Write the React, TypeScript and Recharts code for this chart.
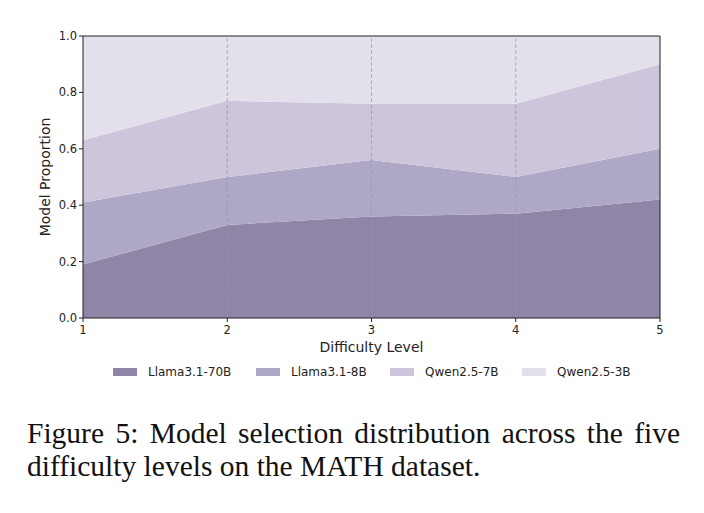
import { AreaChart, Area, XAxis, YAxis, ReferenceLine, Label } from 'recharts'

// x categories and per-model shares
const levels = [1, 2, 3, 4, 5]
const llama70 = [0.19, 0.33, 0.36, 0.37, 0.42]
const llama8 = [0.22, 0.17, 0.2, 0.13, 0.18]
const qwen7 = [0.22, 0.27, 0.2, 0.26, 0.3]
const qwen3 = [0.37, 0.23, 0.24, 0.24, 0.1]
const yTicks = [0, 0.2, 0.4, 0.6, 0.8, 1.0]
const gridLevels = [2, 3, 4]

const series = [
  { key: 'llama70', name: 'Llama3.1-70B', color: '#8f85a6' },
  { key: 'llama8', name: 'Llama3.1-8B', color: '#aea7c5' },
  { key: 'qwen7', name: 'Qwen2.5-7B', color: '#cdc5db' },
  { key: 'qwen3', name: 'Qwen2.5-3B', color: '#e3e0ec' },
]

const data = levels.map((level, i) => ({
  level,
  llama70: llama70[i],
  llama8: llama8[i],
  qwen7: qwen7[i],
  qwen3: qwen3[i],
}))

const font = 'DejaVu Sans, sans-serif'
const tickStyle = { fill: '#222', fontSize: 11.5, fontFamily: font }
const legendLeft = [113, 256, 390, 522]

export default function App() {
  return (
    <div style={{ position: 'absolute', left: 0, top: 0, width: 704, height: 513, background: '#fff' }}>
      <AreaChart
        width={704}
        height={360}
        data={data}
        margin={{ top: 36, right: 44, left: 0, bottom: 0 }}
      >
        <XAxis
          dataKey="level"
          type="number"
          domain={[1, 5]}
          ticks={levels}
          height={42}
          tick={{ ...tickStyle, dy: 2 }}
          tickSize={4}
          stroke="#222"
        >
          <Label
            content={() => (
              <text x={371.5} y={352} textAnchor="middle" fontSize={14} fontFamily={font} fill="#222">
                Difficulty Level
              </text>
            )}
          />
        </XAxis>
        <YAxis
          type="number"
          domain={[0, 1]}
          ticks={yTicks}
          width={83}
          tick={tickStyle}
          tickSize={4}
          tickFormatter={(v: number) => v.toFixed(1)}
          stroke="#222"
        >
          <Label
            content={() => (
              <text
                x={45}
                y={177}
                transform="rotate(-90 45 177)"
                textAnchor="middle"
                dominantBaseline="central"
                fontSize={14}
                fontFamily={font}
                fill="#222"
              >
                Model Proportion
              </text>
            )}
          />
        </YAxis>
        {series.map((s) => (
          <Area
            key={s.key}
            dataKey={s.key}
            name={s.name}
            stackId="1"
            type="linear"
            stroke="none"
            fill={s.color}
            fillOpacity={1}
            isAnimationActive={false}
          />
        ))}
        {gridLevels.map((g) => (
          <ReferenceLine key={g} x={g} stroke="#9a9a9a" strokeOpacity={0.8} strokeDasharray="3.5 2.5" />
        ))}
        <ReferenceLine y={1} stroke="#222" />
        <ReferenceLine x={5} stroke="#222" />
      </AreaChart>
      <div style={{ position: 'absolute', top: 364, left: 0, width: 704, height: 16, fontFamily: font, fontSize: 12, color: '#222' }}>
        {series.map((s, i) => (
          <div
            key={s.key}
            style={{ position: 'absolute', left: legendLeft[i], top: 0, display: 'flex', alignItems: 'center', height: 16, whiteSpace: 'nowrap' }}
          >
            <span style={{ display: 'inline-block', width: 24, height: 8, background: s.color, marginRight: 11 }} />
            <span>{s.name}</span>
          </div>
        ))}
      </div>
      <div
        style={{
          position: 'absolute',
          left: 27,
          top: 417,
          width: 653,
          fontFamily: 'Liberation Serif, Times New Roman, serif',
          fontSize: 29.5,
          lineHeight: '33px',
          color: '#111',
        }}
      >
        <div style={{ textAlign: 'justify', textAlignLast: 'justify' }}>
          Figure 5: Model selection distribution across the five
        </div>
        <div>difficulty levels on the MATH dataset.</div>
      </div>
    </div>
  )
}
